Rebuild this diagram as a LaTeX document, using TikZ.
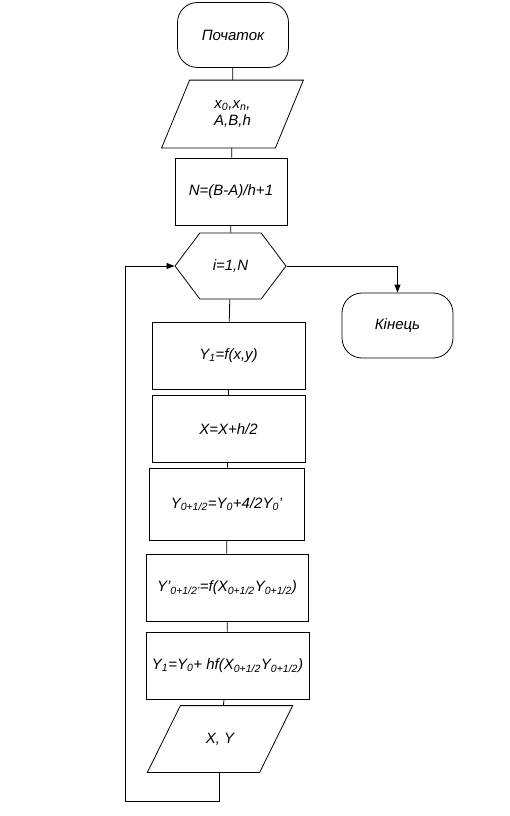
\documentclass[tikz,border=0pt]{standalone}
\usepackage{fontspec}
\setmainfont{Liberation Sans}
\usetikzlibrary{arrows.meta, shapes.symbols}

\begin{document}
\begin{tikzpicture}[x=1pt, y=-1pt,
    every node/.style={font=\fontsize{15}{17}\selectfont\itshape, line width=0.8pt},
    term/.style={draw, rectangle, rounded corners=20pt, minimum width=111pt, minimum height=65pt},
    proc/.style={draw, rectangle, minimum height=67pt},
    io/.style={rectangle, minimum height=67pt},
    loopbox/.style={draw, signal, signal to=west and east, signal pointer angle=106, minimum width=111pt, minimum height=66pt},
    flow/.style={line width=0.8pt},
    arr/.style={line width=0.8pt, -{Triangle[length=8pt, width=6pt]}}]
    \useasboundingbox (0,0) rectangle (510,816);

    % Start and end
    \node[term] (Start) at (233,35) {Початок};
    \node[term] (End) at (397.5,325.5) {Кінець};

    % Input
    \node[io, minimum width=113pt, align=center] (Input) at (232.5,114) {x\textsubscript{0},x\textsubscript{n},\\A,B,h};
    \draw[flow] ([xshift=14pt]Input.north west) -- ([xshift=14pt]Input.north east)
        -- ([xshift=-14pt]Input.south east) -- ([xshift=-14pt]Input.south west) -- cycle;

    % Number of steps
    \node[proc, minimum width=112pt] (Steps) at (231,191.5) {N=(B-A)/h+1};

    % Loop header
    \node[loopbox] (Loop) at (230.5,266) {i=1,N};

    % Body of the loop
    \node[proc, minimum width=153pt] (Deriv) at (228.5,355.5) {Y\textsubscript{1}=f(x,y)};
    \node[proc, minimum width=153pt] (HalfX) at (228.5,429) {X=X+h/2};
    \node[proc, minimum width=155pt, minimum height=72pt] (HalfY) at (226.5,504) {Y\textsubscript{0+1/2}=Y\textsubscript{0}+4/2Y\textsubscript{0}'};
    \node[proc, minimum width=162pt] (HalfDeriv) at (227,587.5) {Y'\textsubscript{0+1/2'}=f(X\textsubscript{0+1/2}Y\textsubscript{0+1/2})};
    \node[proc, minimum width=163pt] (NextY) at (227.5,665.5) {Y\textsubscript{1}=Y\textsubscript{0}+ hf(X\textsubscript{0+1/2}Y\textsubscript{0+1/2})};

    % Output
    \node[io, minimum width=111.5pt, minimum height=66pt] (Output) at (220,739) {X, Y};
    \draw[flow] ([xshift=16.5pt]Output.north west) -- ([xshift=16.5pt]Output.north east)
        -- ([xshift=-16.5pt]Output.south east) -- ([xshift=-16.5pt]Output.south west) -- cycle;

    % Return of the loop
    \coordinate (LoopLow) at (219,801);
    \coordinate (LoopLeft) at (125,801);

    % Lines
    \draw[flow] (Start) -- (Input);
    \draw[flow] (Input) -- (Steps);
    \draw[flow] (Steps) -- (Loop);
    \draw[flow] (Loop) -- (Deriv);
    \draw[flow] (Deriv) -- (HalfX);
    \draw[flow] (HalfX) -- (HalfY);
    \draw[flow] (HalfY) -- (HalfDeriv);
    \draw[flow] (HalfDeriv) -- (NextY);
    \draw[flow] (NextY) -- (Output);
    \draw[arr] (Loop.east) -| (End.north);
    \draw[arr] (Output.south -| LoopLow) -- (LoopLow) -- (LoopLeft) |- (Loop.west);
\end{tikzpicture}
\end{document}
